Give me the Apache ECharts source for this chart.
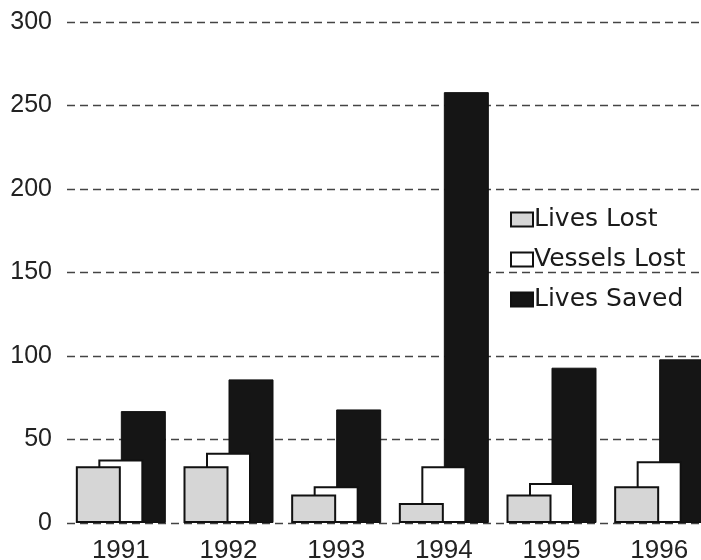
<!DOCTYPE html>
<html><head><meta charset="utf-8">
<script src="https://cdn.jsdelivr.net/npm/echarts@6/dist/echarts.min.js"></script>
<style>html,body{margin:0;padding:0;background:#fff}#c{width:701px;height:560px}</style>
</head><body><div id="c"></div>
<script>
var years = ['1991','1992','1993','1994','1995','1996'];
var livesLost = [34, 34, 17, 12, 17, 22];
var vesselsLost = [38, 42, 22, 34, 24, 37];
var livesSaved = [67, 86, 68, 258, 93, 98];
var yTicks = {min: 0, max: 300, interval: 50};

var chart = echarts.init(document.getElementById('c'));
var font = 'Liberation Sans, Arial, sans-serif';
chart.setOption({
  animation: false,
  backgroundColor: '#fff',
  grid: {left: 67, width: 646, top: 22, bottom: 37, containLabel: false, outerBoundsMode: 'none'},
  legend: {
    orient: 'vertical', left: 505, top: 202,
    itemWidth: 22, itemHeight: 14, itemGap: 15,
    textStyle: {fontFamily: 'DejaVu Sans, sans-serif', fontSize: 25, lineHeight: 25, color: '#1a1a1a', padding: [0,0,0,-4]},
    data: ['Lives Lost', 'Vessels Lost', 'Lives Saved'],
    icon: 'rect'
  },
  xAxis: {
    type: 'category', data: years,
    axisLine: {show: false}, axisTick: {show: false},
    axisLabel: {fontFamily: font, fontSize: 26, color: '#222', margin: 15}
  },
  yAxis: {
    type: 'value', min: yTicks.min, max: yTicks.max, interval: yTicks.interval,
    axisLine: {show: false}, axisTick: {show: false},
    axisLabel: {fontFamily: font, fontSize: 25, color: '#222', margin: 15},
    splitLine: {lineStyle: {type: [8, 5], color: '#444', width: 1.3}}
  },
  series: [
    {name: 'Lives Lost', type: 'bar', data: livesLost, barWidth: 45, barGap: '-50%', z: 4,
     itemStyle: {color: '#d6d6d6', borderColor: '#111', borderWidth: 2}},
    {name: 'Vessels Lost', type: 'bar', data: vesselsLost, barWidth: 45, barGap: '-50%', z: 3,
     itemStyle: {color: '#fff', borderColor: '#111', borderWidth: 2}},
    {name: 'Lives Saved', type: 'bar', data: livesSaved, barWidth: 45, barGap: '-50%', z: 2,
     itemStyle: {color: '#151515', borderColor: '#111', borderWidth: 1}}
  ]
});
</script></body></html>
